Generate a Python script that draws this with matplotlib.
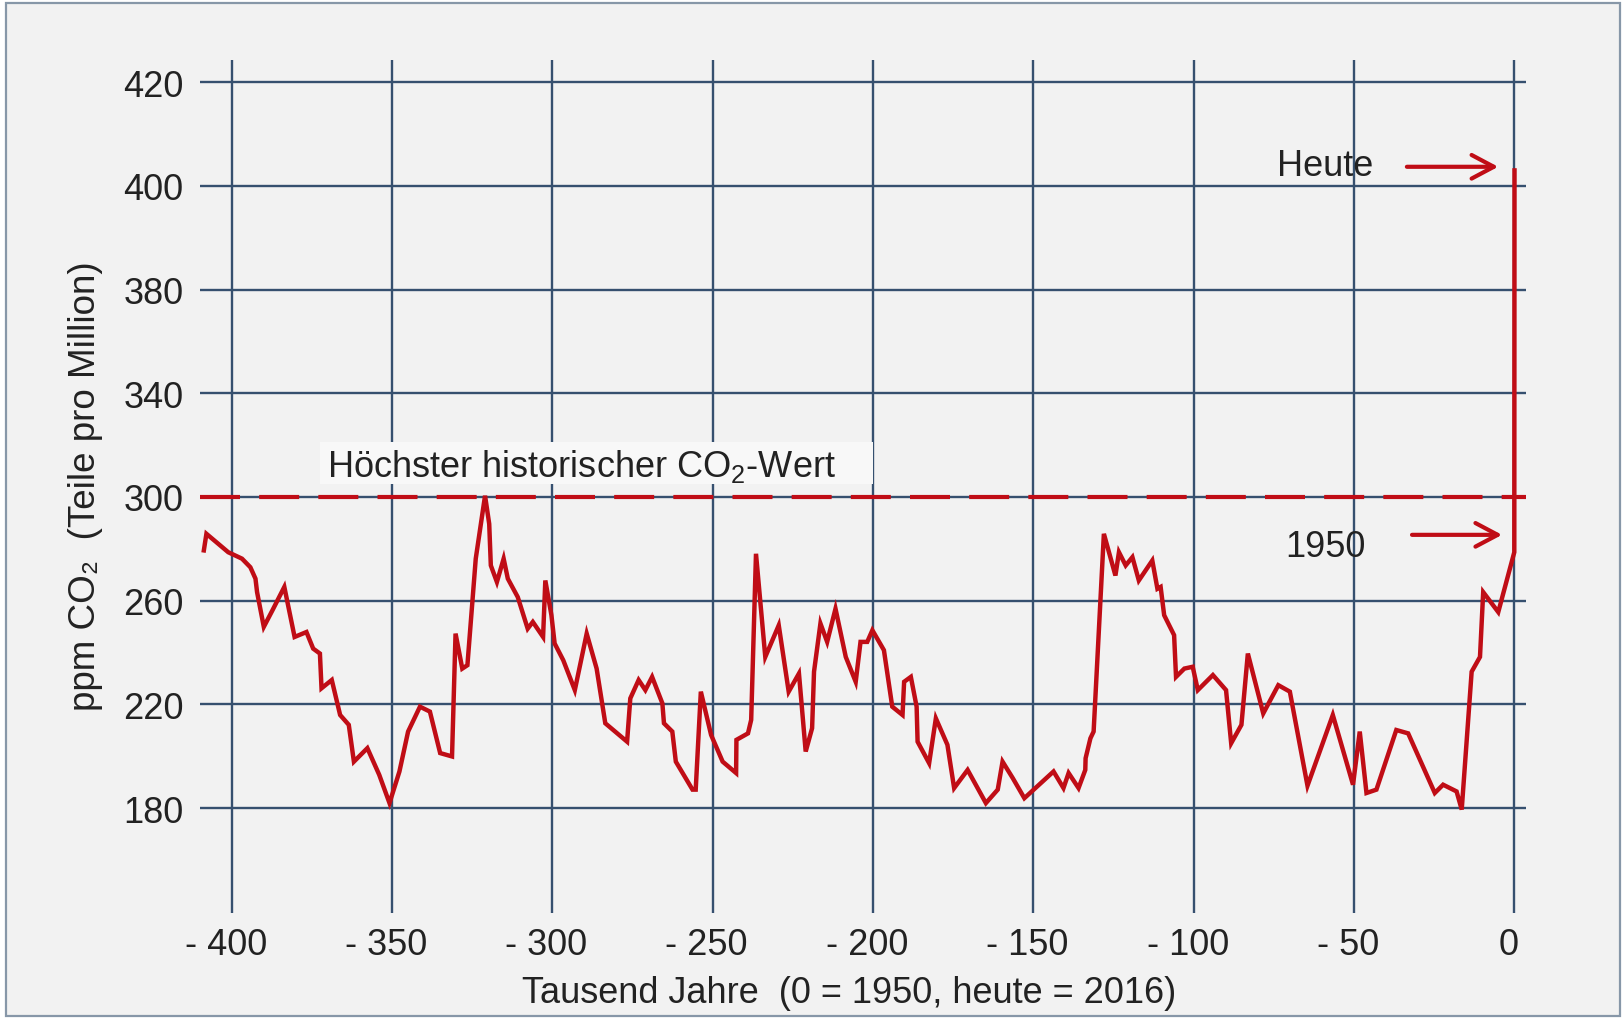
import numpy as np
import matplotlib
matplotlib.use("Agg")
import matplotlib.pyplot as plt
from matplotlib.patches import Rectangle, FancyArrowPatch
from matplotlib.transforms import ScaledTranslation

# ---------------- data ----------------
years_kyr = [
    -408.7, -407.9, -401.1, -396.8, -394.2, -392.6, -392.1, -390.0, -387.3, -383.6,
    -380.4, -376.7, -374.6, -372.5, -372.0, -368.8, -366.2, -363.5, -361.9, -357.7,
    -354.0, -350.8, -347.7, -345.0, -341.3, -338.2, -335.0, -331.3, -330.2, -328.1,
    -326.5, -323.9, -321.0, -319.7, -319.2, -317.3, -315.2, -313.9, -310.8, -307.7,
    -306.1, -302.9, -302.2, -300.3, -299.3, -296.6, -293.0, -289.3, -286.2, -283.5,
    -276.7, -275.7, -273.1, -271.0, -268.9, -265.7, -265.2, -262.6, -261.5, -256.3,
    -255.3, -253.7, -250.5, -246.9, -242.7, -242.6, -239.0, -238.0, -236.5, -233.6,
    -229.4, -226.3, -223.1, -221.0, -219.0, -218.4, -216.4, -214.3, -211.7, -208.5,
    -205.4, -203.9, -201.8, -200.2, -196.6, -194.0, -190.8, -190.3, -188.2, -186.4,
    -186.1, -182.5, -180.4, -176.8, -174.7, -170.5, -164.8, -161.1, -159.6, -156.4,
    -152.8, -143.7, -140.6, -139.0, -135.9, -133.8, -133.7, -132.2, -131.2, -128.0,
    -124.4, -123.3, -121.2, -119.1, -117.1, -112.9, -111.3, -110.3, -109.2, -106.1,
    -105.5, -102.9, -100.3, -98.7, -94.0, -89.9, -88.3, -85.1, -83.1, -78.3,
    -73.6, -70.0, -64.5, -56.6, -50.3, -48.2, -46.1, -43.0, -36.8, -33.1,
    -24.8, -22.2, -18.0, -16.4, -13.3, -10.7, -9.7, -5.0, 0.0, 0.066,
]
co2_ppm = [
    279.4, 285.8, 278.7, 276.2, 272.9, 268.5, 263.3, 249.9, 256.3, 265.3,
    246.0, 247.9, 241.5, 239.6, 226.2, 229.4, 215.9, 212.1, 197.9, 203.1,
    192.8, 181.9, 194.1, 209.5, 219.1, 217.2, 201.2, 199.9, 247.3, 233.8,
    235.1, 276.2, 300.5, 289.6, 273.6, 267.2, 276.2, 268.5, 261.4, 249.2,
    251.8, 246.0, 267.8, 254.4, 243.5, 237.0, 225.5, 247.3, 233.8, 212.7,
    205.6, 222.3, 229.4, 225.5, 230.6, 220.4, 212.7, 209.5, 197.9, 187.1,
    187.1, 224.9, 208.2, 197.9, 193.5, 206.3, 208.8, 214.0, 278.1, 238.3,
    250.5, 224.9, 231.9, 201.8, 210.8, 232.6, 251.2, 244.1, 256.9, 238.3,
    228.7, 244.1, 244.1, 248.6, 240.9, 219.1, 215.9, 228.7, 230.6, 219.1,
    205.6, 197.3, 214.6, 204.4, 187.7, 194.7, 181.9, 187.1, 197.9, 191.5,
    183.8, 194.1, 187.7, 193.5, 187.7, 194.7, 199.2, 206.9, 209.5, 285.8,
    269.7, 278.7, 273.6, 276.8, 267.8, 275.5, 264.6, 265.3, 254.4, 246.7,
    230.6, 233.8, 234.5, 225.5, 231.3, 225.5, 205.0, 212.1, 239.6, 216.5,
    227.4, 224.9, 188.6, 215.9, 189.0, 209.5, 185.8, 187.1, 210.1, 208.8,
    185.8, 189.0, 186.4, 179.4, 232.6, 238.3, 263.3, 255.6, 278.7, 403.0,
]
max_hist_ppm = 300
x_ticks = [-400, -350, -300, -250, -200, -150, -100, -50, 0]
x_tick_labels = ["- 400", "- 350", "- 300", "- 250", "- 200", "- 150", "- 100", "- 50", "0"]
y_ticks = [180, 220, 260, 300, 340, 380, 400, 420]
y_tick_labels = ["180", "220", "260", "300", "340", "380", "400", "420"]

x_label = "Tausend Jahre  (0 = 1950, heute = 2016)"
y_label = "ppm CO\u2082  (Teile pro Million)"
max_label = "Höchster historischer CO$_2$-Wert"
today_label = "Heute"
year1950_label = "1950"

# ---------------- style ----------------
plt.rcParams["font.family"] = ["Liberation Sans", "DejaVu Sans"]
plt.rcParams["mathtext.fontset"] = "custom"
plt.rcParams["mathtext.rm"] = "Liberation Sans"
plt.rcParams["mathtext.it"] = "Liberation Sans:italic"
plt.rcParams["mathtext.bf"] = "Liberation Sans:bold"

RED = "#c00d16"
GRID = "#36506f"
TXT = "#222222"
FS = 26

W, H = 1623, 1020
fig = plt.figure(figsize=(W / 100, H / 100), dpi=100, facecolor="white")
fig.patches.append(Rectangle((6 / W, 3 / H), (1620 - 6) / W, (1016 - 3) / H,
                             transform=fig.transFigure, facecolor="#f2f2f2",
                             edgecolor="#8797a8", lw=1.6, zorder=-10))

ax = fig.add_axes([200 / W, 1 - 914 / H, 1326 / W, 853 / H])
ax.set_facecolor("none")
ax.set_zorder(1)


def fwd(v):
    v = np.asarray(v, dtype=float)
    return np.where(v <= 380, (v - 180) / 40.0, 5 + (v - 380) / 20.0)


def inv(p):
    p = np.asarray(p, dtype=float)
    return np.where(p <= 5, 180 + 40.0 * p, 380 + 20.0 * (p - 5))


ax.set_yscale("function", functions=(fwd, inv))
ax.set_xlim(-409.9, 3.65)
ax.set_ylim(139.5, 424.3)

for s in ax.spines.values():
    s.set_visible(False)

ax.set_xticks(x_ticks)
ax.set_xticklabels(x_tick_labels)
ax.set_yticks(y_ticks)
ax.set_yticklabels(y_tick_labels)
ax.minorticks_off()
ax.tick_params(axis="both", length=0, labelsize=FS, colors=TXT)
ax.tick_params(axis="x", pad=10)
ax.tick_params(axis="y", pad=12)
off = ScaledTranslation(-6 / 100, 0, fig.dpi_scale_trans)
for lab in ax.get_xticklabels():
    lab.set_transform(lab.get_transform() + off)

ax.set_axisbelow(True)
ax.grid(True, color=GRID, lw=1.7)

# label box behind the max-value text
ax.add_patch(Rectangle((-372.5, 305.0), 172.5, 16.2, facecolor="#f8f8f8",
                       edgecolor="none", zorder=1))

ax.axhline(max_hist_ppm, color=RED, lw=3.0, linestyle=(0, (9.6, 4.6)), zorder=2)
ax.plot(years_kyr, co2_ppm, color=RED, lw=3.2, solid_joinstyle="miter", zorder=3)

ax.text(-370.3, 308.1, max_label, fontsize=FS, color=TXT, ha="left", va="baseline", zorder=4)
ax.text(-74.0, 402.2, today_label, fontsize=FS, color=TXT, ha="left", va="baseline", zorder=4)
ax.text(-71.5, 277.3, year1950_label, fontsize=FS, color=TXT, ha="left", va="baseline", zorder=4)

for (x0, x1, yy) in [(-33.5, -5.0, 403.7), (-31.9, -3.8, 285.4)]:
    ax.add_patch(FancyArrowPatch((x0, yy), (x1, yy),
                                 arrowstyle="->,head_length=16,head_width=8.5",
                                 mutation_scale=1, lw=3.0, color=RED,
                                 shrinkA=0, shrinkB=0, zorder=4))

fig.text(849 / W, 1 - 994 / H, x_label, fontsize=FS, color=TXT, ha="center", va="center")
fig.text(86 / W, 1 - 486 / H, y_label, fontsize=26.5, color=TXT, ha="center", va="center",
         rotation=90)

fig.savefig("out.png", dpi=100, facecolor="white")
